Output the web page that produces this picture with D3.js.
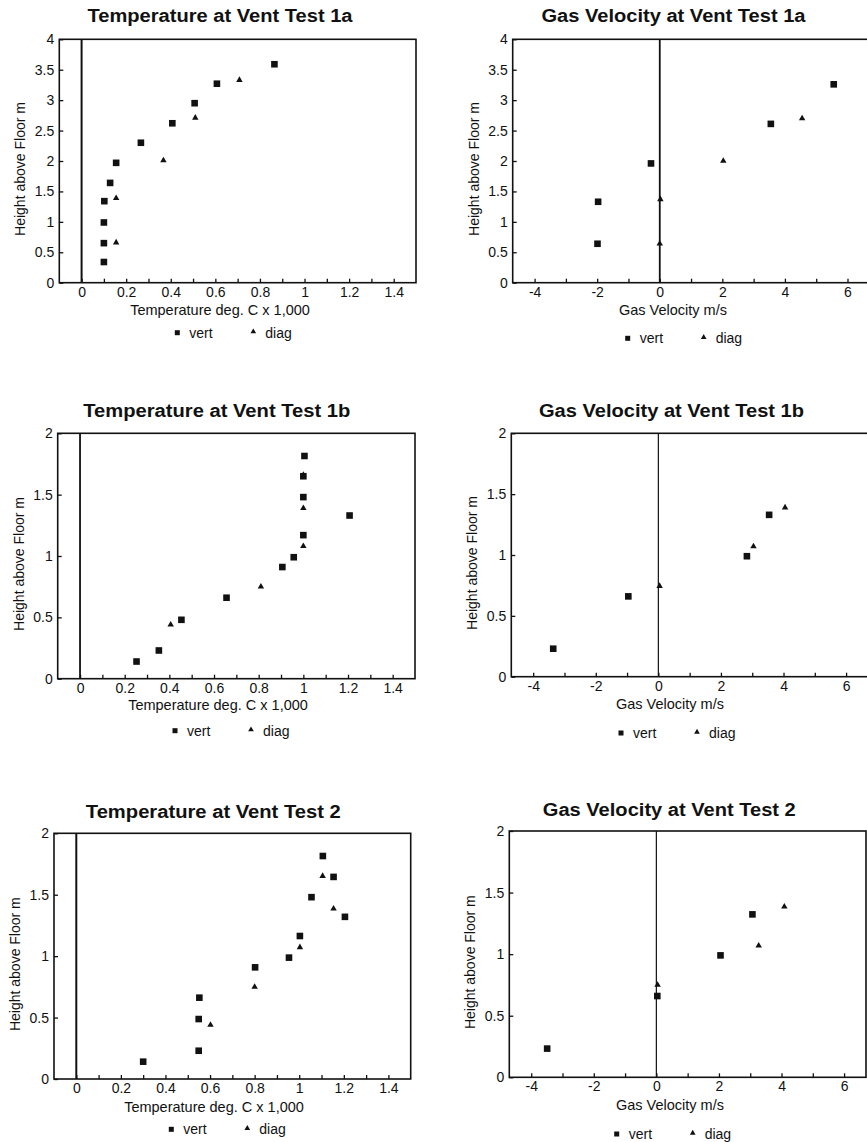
<!DOCTYPE html>
<html>
<head>
<meta charset="utf-8">
<script src="https://cdn.jsdelivr.net/npm/d3@7"></script>
<style>
  html, body { margin: 0; padding: 0; background: #fff; }
  svg text { font-family: "Liberation Sans", Arial, Helvetica, sans-serif; fill: #111; }
</style>
</head>
<body>
<div id="chart"></div>
<script>
// --- data: [value, height above floor m] ---
var temp1aVert = [[0.865, 3.59], [0.607, 3.27], [0.507, 2.95], [0.407, 2.62], [0.266, 2.30],
                  [0.155, 1.97], [0.128, 1.64], [0.102, 1.34], [0.10, 0.99], [0.10, 0.65], [0.10, 0.34]];
var temp1aDiag = [[0.708, 3.33], [0.51, 2.71], [0.367, 2.01], [0.155, 1.39], [0.155, 0.66]];

var vel1aVert = [[5.56, 3.26], [3.55, 2.61], [-0.28, 1.96], [-1.97, 1.33], [-1.99, 0.64]];
var vel1aDiag = [[4.55, 2.70], [2.03, 2.0], [0.02, 1.37], [0.0, 0.64]];

var temp1bVert = [[1.005, 1.815], [1.0, 1.65], [1.0, 1.48], [1.207, 1.33], [1.0, 1.17], [0.957, 0.99],
                  [0.906, 0.91], [0.656, 0.66], [0.454, 0.48], [0.353, 0.23], [0.253, 0.14]];
var temp1bDiag = [[1.0, 1.66], [1.0, 1.39], [1.0, 1.08], [0.81, 0.75], [0.406, 0.44]];

var vel1bVert = [[3.54, 1.33], [2.83, 0.99], [-0.96, 0.66], [-3.36, 0.23]];
var vel1bDiag = [[4.05, 1.39], [3.04, 1.07], [0.04, 0.745]];

var temp2Vert = [[1.106, 1.815], [1.154, 1.645], [1.055, 1.48], [1.205, 1.32], [1.003, 1.164], [0.954, 0.988],
                 [0.802, 0.909], [0.552, 0.662], [0.549, 0.488], [0.549, 0.23], [0.30, 0.141]];
var temp2Diag = [[1.105, 1.652], [1.154, 1.387], [1.003, 1.072], [0.80, 0.749], [0.602, 0.44]];

var vel2Vert = [[3.07, 1.323], [2.05, 0.99], [0.03, 0.66], [-3.49, 0.233]];
var vel2Diag = [[4.09, 1.386], [3.27, 1.069], [0.04, 0.75]];

// tick values
var tempTicks = d3.range(0, 15).map(function (i) { return i / 10; });
var velTicks = d3.range(-4, 7);
var heightTicks4 = d3.range(0, 9).map(function (i) { return i / 2; });
var heightTicks2 = d3.range(0, 5).map(function (i) { return i / 2; });

var titles = ['Temperature at Vent Test 1a', 'Gas Velocity at Vent Test 1a',
              'Temperature at Vent Test 1b', 'Gas Velocity at Vent Test 1b',
              'Temperature at Vent Test 2', 'Gas Velocity at Vent Test 2'];
var tempLabel = 'Temperature deg. C x 1,000';
var velLabel = 'Gas Velocity m/s';
var yLabel = 'Height above Floor m';
var seriesNames = ['vert', 'diag'];

// --- layout of the six panels (pixel boxes of each frame) ---
var W = 867, H = 1142;
var panels = [
    { kind: 'temp', x0: 59.3, x1: 416, y0: 39.3, y1: 282.7, ymax: 4, vert: temp1aVert, diag: temp1aDiag,
      titleX: 220, titleW: 265, titleDy: -24, axisX: 220, tickDy: 11, labDy: 27, legDy: 50, legX: 177.3, zw: 2 },
    { kind: 'vel', x0: 512.7, x1: 869.4, y0: 39.3, y1: 282.7, ymax: 4, vert: vel1aVert, diag: vel1aDiag,
      titleX: 673.5, titleW: 264, titleDy: -24, axisX: 673, tickDy: 11.3, labDy: 27.3, legDy: 55.6, legX: 627.7, zw: 1.8 },
    { kind: 'temp', x0: 57.7, x1: 415, y0: 433.3, y1: 678.7, ymax: 2, vert: temp1bVert, diag: temp1bDiag,
      titleX: 216.8, titleW: 267, titleDy: -22.6, axisX: 218, tickDy: 11.3, labDy: 26.5, legDy: 52, legX: 175, zw: 1.8 },
    { kind: 'vel', x0: 511.3, x1: 868, y0: 433.3, y1: 676.7, ymax: 2, vert: vel1bVert, diag: vel1bDiag,
      titleX: 671.5, titleW: 265, titleDy: -22.6, axisX: 670, tickDy: 11.3, labDy: 27.6, legDy: 56.3, legX: 621, zw: 1.2 },
    { kind: 'temp', x0: 54, x1: 410.7, y0: 833.3, y1: 1079, ymax: 2, vert: temp2Vert, diag: temp2Diag,
      titleX: 213.3, titleW: 255, titleDy: -21.6, axisX: 214, tickDy: 11, labDy: 27.7, legDy: 50.3, legX: 171.3, zw: 2 },
    { kind: 'vel', x0: 509.3, x1: 866, y0: 831, y1: 1077.3, ymax: 2, vert: vel2Vert, diag: vel2Diag,
      titleX: 669.3, titleW: 253, titleDy: -21.7, axisX: 670, tickDy: 10.7, labDy: 27.7, legDy: 56.7, legX: 616.7, zw: 1.2 }
];

var svg = d3.select('#chart').append('svg')
    .attr('width', W)
    .attr('height', H)
    .attr('viewBox', '0 0 ' + W + ' ' + H);

svg.append('rect').attr('width', W).attr('height', H).attr('fill', '#fff');

var triangle = d3.symbol().type(d3.symbolTriangle);

function drawPanel(p, i) {
    var isTemp = p.kind === 'temp';
    var x = d3.scaleLinear()
        .domain(isTemp ? [-0.1, 1.5] : [-4.7, 6.7])
        .range([p.x0, p.x1]);
    var y = d3.scaleLinear()
        .domain([0, p.ymax])
        .range([p.y1, p.y0]);

    var g = svg.append('g').attr('class', 'panel');

    // title (the scan uses a wide heavy face, so stretch to its measured width)
    g.append('text')
        .attr('x', p.titleX)
        .attr('y', p.y0 + p.titleDy)
        .attr('dy', '0.35em')
        .attr('text-anchor', 'middle')
        .attr('font-size', '18px')
        .attr('font-weight', 'bold')
        .attr('textLength', p.titleW)
        .attr('lengthAdjust', 'spacingAndGlyphs')
        .text(titles[i]);

    // bottom axis, ticks pointing inside the frame
    var xAxis = d3.axisBottom(x)
        .tickValues(isTemp ? tempTicks : velTicks)
        .tickSize(-4)
        .tickPadding(p.tickDy - 6.5)
        .tickFormat(function (d) {
            if (isTemp) {
                var k = Math.round(d * 10);
                return k % 2 === 0 ? String(k / 10) : '';
            }
            return d % 2 === 0 ? String(d) : '';
        });
    var xg = g.append('g')
        .attr('transform', 'translate(0,' + p.y1 + ')')
        .call(xAxis);

    var yAxis = d3.axisLeft(y)
        .tickValues(p.ymax === 4 ? heightTicks4 : heightTicks2)
        .tickSize(-4)
        .tickPadding(5)
        .tickFormat(function (d) { return String(d); });
    var yg = g.append('g')
        .attr('transform', 'translate(' + p.x0 + ',0)')
        .call(yAxis);

    [xg, yg].forEach(function (ax) {
        ax.select('.domain').remove();
        ax.selectAll('line').attr('stroke', '#111').attr('stroke-width', 1.3);
        ax.selectAll('text')
            .attr('font-size', '14px')
            .attr('font-family', '"Liberation Sans", Arial, sans-serif')
            .attr('fill', '#111');
    });

    // frame
    g.append('rect')
        .attr('x', p.x0)
        .attr('y', p.y0)
        .attr('width', p.x1 - p.x0)
        .attr('height', p.y1 - p.y0)
        .attr('fill', 'none')
        .attr('stroke', '#111')
        .attr('stroke-width', 1.6);

    // zero line
    g.append('line')
        .attr('x1', x(0)).attr('x2', x(0))
        .attr('y1', p.y0).attr('y2', p.y1)
        .attr('stroke', '#111')
        .attr('stroke-width', p.zw);

    // axis titles
    g.append('text')
        .attr('x', p.axisX)
        .attr('y', p.y1 + p.labDy)
        .attr('dy', '0.35em')
        .attr('text-anchor', 'middle')
        .attr('font-size', '14.5px')
        .text(isTemp ? tempLabel : velLabel);

    g.append('text')
        .attr('transform', 'translate(' + (p.x0 - 39) + ',' + ((p.y0 + p.y1) / 2 + 8) + ') rotate(-90)')
        .attr('dy', '0.35em')
        .attr('text-anchor', 'middle')
        .attr('font-size', '14px')
        .text(yLabel);

    // points
    g.selectAll('.vert')
        .data(p.vert)
        .enter()
        .append('rect')
        .attr('class', 'vert')
        .attr('x', function (d) { return x(d[0]) - 3.3; })
        .attr('y', function (d) { return y(d[1]) - 3.3; })
        .attr('width', 6.6)
        .attr('height', 6.6)
        .attr('fill', '#111');

    g.selectAll('.diag')
        .data(p.diag)
        .enter()
        .append('path')
        .attr('class', 'diag')
        .attr('d', triangle.size(18))
        .attr('transform', function (d) {
            return 'translate(' + x(d[0]) + ',' + y(d[1]) + ')';
        })
        .attr('fill', '#111');

    // legend
    var ly = p.y1 + p.legDy;
    g.append('rect')
        .attr('x', p.legX - 2.5)
        .attr('y', ly - 2.5)
        .attr('width', 5)
        .attr('height', 5)
        .attr('fill', '#111');
    g.append('text')
        .attr('x', p.legX + 12)
        .attr('y', ly)
        .attr('dy', '0.35em')
        .attr('font-size', '14px')
        .text(seriesNames[0]);
    g.append('path')
        .attr('d', triangle.size(14))
        .attr('transform', 'translate(' + (p.legX + 76) + ',' + (ly - 1) + ')')
        .attr('fill', '#111');
    g.append('text')
        .attr('x', p.legX + 88)
        .attr('y', ly)
        .attr('dy', '0.35em')
        .attr('font-size', '14px')
        .text(seriesNames[1]);
}

panels.forEach(drawPanel);
</script>
</body>
</html>
